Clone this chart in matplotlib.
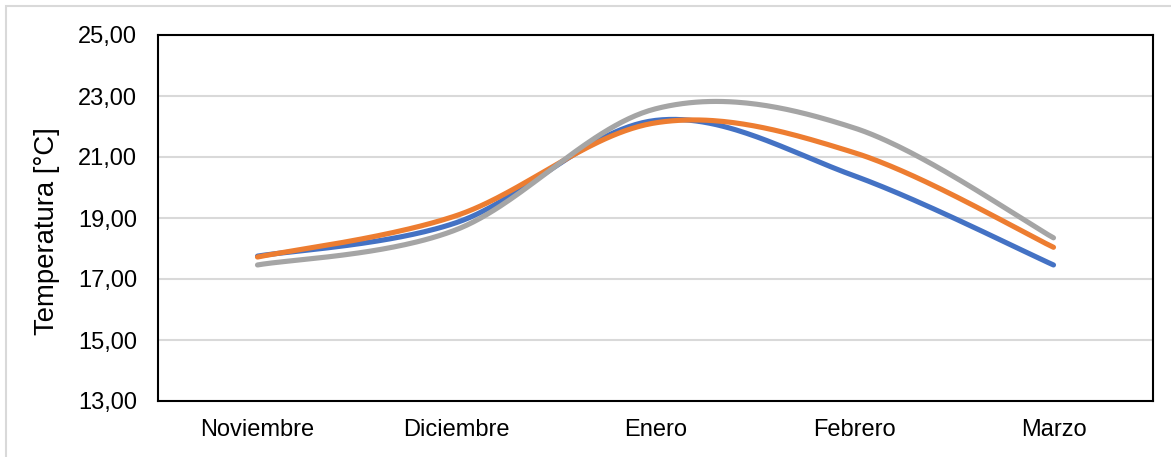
import numpy as np
import matplotlib
matplotlib.use("Agg")
import matplotlib.pyplot as plt
from matplotlib.patches import Rectangle
from matplotlib.ticker import FuncFormatter

plt.rcParams['font.family'] = ['Liberation Sans', 'DejaVu Sans']

meses = ["Noviembre", "Diciembre", "Enero", "Febrero", "Marzo"]
serie_azul = [17.75, 18.85, 22.20, 20.38, 17.46]
serie_naranja = [17.72, 19.08, 22.12, 21.14, 18.04]
serie_gris = [17.46, 18.62, 22.58, 21.95, 18.35]

colores = ["#4472C4", "#ED7D31", "#A5A5A5"]


def suavizar(xs, ys, n=60):
    """Curva suavizada tipo Catmull-Rom (Bezier cubica por tramos)."""
    pts = np.column_stack([xs, ys]).astype(float)
    m = len(pts)
    out = []
    t = np.linspace(0, 1, n)
    for i in range(m - 1):
        p0 = pts[i]
        p3 = pts[i + 1]
        prev = pts[i - 1] if i > 0 else pts[i]
        nxt = pts[i + 2] if i + 2 < m else pts[i + 1]
        c1 = p0 + (p3 - prev) / 6.0
        c2 = p3 - (nxt - p0) / 6.0
        seg = ((1 - t)[:, None] ** 3 * p0 + 3 * ((1 - t) ** 2 * t)[:, None] * c1
               + 3 * ((1 - t) * t ** 2)[:, None] * c2 + (t ** 3)[:, None] * p3)
        out.append(seg if i == 0 else seg[1:])
    seg = np.vstack(out)
    return seg[:, 0], seg[:, 1]


fig = plt.figure(figsize=(11.71, 4.57), dpi=100)
W, H = 1171, 457

# Borde del área del gráfico
fig.patches.append(Rectangle((6 / W, -0.1), 1.2, (H - 6) / H + 0.1,
                             transform=fig.transFigure, fill=False,
                             edgecolor="#D9D9D9", linewidth=1.5))

ax = fig.add_axes([158 / W, (H - 401) / H, (1153 - 158) / W, (401 - 35) / H])

x = np.arange(len(meses))
for ys, c in zip([serie_azul, serie_naranja, serie_gris], colores):
    sx, sy = suavizar(x, ys)
    ax.plot(sx, sy, color=c, linewidth=3.7, solid_capstyle="round")

ax.set_xlim(-0.5, len(meses) - 0.5)
ax.set_ylim(13, 25)
ax.set_yticks(np.arange(13, 25.1, 2))
ax.yaxis.set_major_formatter(FuncFormatter(lambda v, p: f"{v:.2f}".replace(".", ",")))
ax.set_xticks(x)
ax.set_xticklabels(meses)
ax.tick_params(axis="both", length=0, labelsize=17, colors="black")
ax.tick_params(axis="y", pad=15)
ax.tick_params(axis="x", pad=13)
ax.grid(axis="y", color="#D9D9D9", linewidth=1.5)
ax.set_axisbelow(True)
for s in ax.spines.values():
    s.set_color("black")
    s.set_linewidth(1.5)

# Título del eje vertical
fig.text(47 / W, 1 - 231 / H, "Temperatura [°C]", rotation=90,
         ha="center", va="center", fontsize=19.8)

fig.savefig("out.png", dpi=100)
